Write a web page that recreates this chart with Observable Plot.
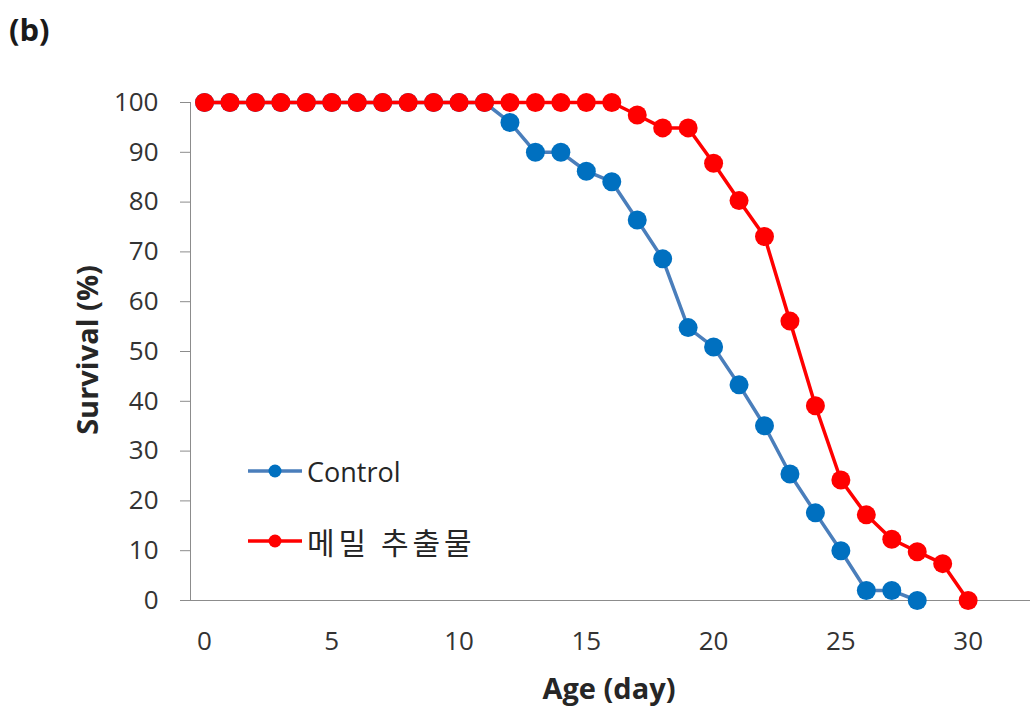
<!DOCTYPE html>
<html><head><meta charset="utf-8">
<script src="https://cdn.jsdelivr.net/npm/d3@7"></script>
<script src="https://cdn.jsdelivr.net/npm/@observablehq/plot@0.6"></script>
<style>
body{margin:0;background:#fff;}
#wrap{position:relative;width:1030px;height:715px;font-family:"Open Sans",sans-serif;color:#262626;}
#wrap > svg{position:absolute;left:0;top:0;}
.ov{position:absolute;white-space:nowrap;}
#panel{left:9px;top:8px;font-weight:bold;font-size:31px;color:#1a1a1a;}
#xtitle{left:609px;top:668px;transform:translateX(-50%);font-weight:bold;font-size:29px;line-height:40px;}
#ytitle{left:87px;top:350px;transform:translate(-50%,-50%) rotate(-90deg);font-weight:bold;font-size:29px;line-height:40px;}
#wrap .leg{position:absolute;left:248px;display:flex;align-items:center;height:40px;}
#wrap .leg svg{position:static;display:block;}
#wrap .leg span{margin-left:5px;}
</style></head><body>
<div id="wrap">
<div class="ov" id="panel">(b)</div>
<div class="ov" id="xtitle">Age (day)</div>
<div class="ov" id="ytitle">Survival (%)</div>
</div>
<script>
// ---- data ----
const seriesNames = ["Control", "메밀 추출물"];
const seriesColors = ["#0070C0", "#FF0000"];
const lineColors = ["#4A7EBB", "#FF0000"];
const controlDays = [0,1,2,3,4,5,6,7,8,9,10,11,12,13,14,15,16,17,18,19,20,21,22,23,24,25,26,27,28];
const controlSurvival = [100,100,100,100,100,100,100,100,100,100,100,100,96,90,90,86.2,84.1,76.4,68.6,54.8,50.9,43.3,35.1,25.4,17.6,10,2,2,0];
const extractDays = [0,1,2,3,4,5,6,7,8,9,10,11,12,13,14,15,16,17,18,19,20,21,22,23,24,25,26,27,28,29,30];
const extractSurvival = [100,100,100,100,100,100,100,100,100,100,100,100,100,100,100,100,100,97.5,94.9,94.9,87.8,80.3,73.1,56.1,39.1,24.2,17.2,12.3,9.8,7.4,0];
const xTicks = [0,5,10,15,20,25,30];
const yTicks = [0,10,20,30,40,50,60,70,80,90,100];

const control = controlDays.map((d,i)=>({day:d, s:controlSurvival[i]}));
const extract = extractDays.map((d,i)=>({day:d, s:extractSurvival[i]}));

const chart = Plot.plot({
  width:1030, height:715,
  marginLeft:190, marginRight:0, marginTop:102, marginBottom:115,
  style:{fontFamily:'"Open Sans", sans-serif', background:"transparent", overflow:"visible", color:"#333"},
  x:{domain:[-0.55,32.45]},
  y:{domain:[0,100]},
  marks:[
    Plot.frame({anchor:"left", stroke:"#8c8c8c", strokeOpacity:1}),
    Plot.frame({anchor:"bottom", stroke:"#8c8c8c", strokeOpacity:1}),
    Plot.axisY({ticks:yTicks, tickSize:10, tickPadding:22, stroke:"#8c8c8c", fill:"#333", fontSize:26, label:null}),
    Plot.axisX({ticks:xTicks, tickSize:0, tickPadding:31, fill:"#333", fontSize:26, label:null}),
    Plot.line(control, {x:"day", y:"s", stroke:lineColors[0], strokeWidth:3.5}),
    Plot.dot(control, {x:"day", y:"s", r:9.5, fill:seriesColors[0], stroke:"none"}),
    Plot.line(extract, {x:"day", y:"s", stroke:lineColors[1], strokeWidth:3.5}),
    Plot.dot(extract, {x:"day", y:"s", r:9.5, fill:seriesColors[1], stroke:"none"})
  ]
});
const wrap = document.getElementById("wrap");
wrap.insertBefore(chart, wrap.firstChild);

// legend
const legTops = [451, 521];
const legFonts = ["'Open Sans', sans-serif", "'Noto Sans CJK KR', sans-serif"];
const legSizes = [27, 30];
const legSpacing = [0, 4];
seriesNames.forEach((name,i)=>{
  const row = document.createElement("div");
  row.className = "leg";
  row.style.top = legTops[i] + "px";
  row.innerHTML = `<svg width="54" height="40"><line x1="0" x2="54" y1="20" y2="20" stroke="${lineColors[i]}" stroke-width="3.5"/><circle cx="27" cy="20" r="6.5" fill="${seriesColors[i]}"/></svg><span style="font-family:${legFonts[i]};font-size:${legSizes[i]}px;letter-spacing:${legSpacing[i]}px">${name}</span>`;
  wrap.appendChild(row);
});
</script>
</body></html>
